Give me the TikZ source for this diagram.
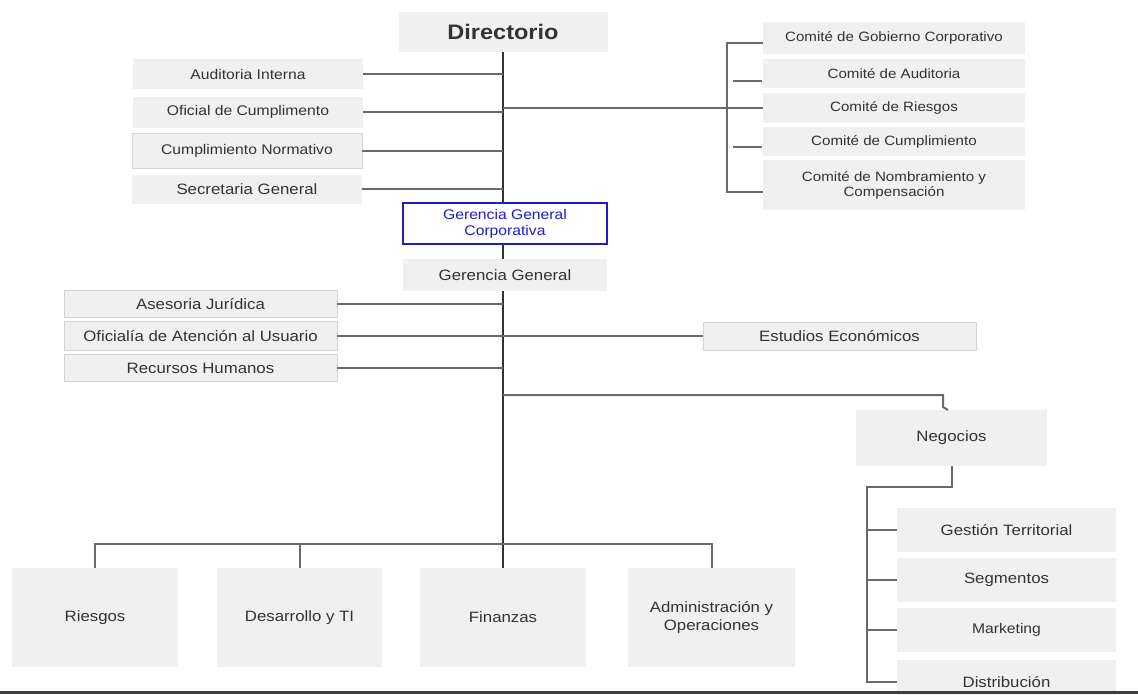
\documentclass[tikz,border=0pt]{standalone}
\usepackage{fontspec}
\setmainfont{Liberation Sans}[FakeStretch=1.12]
\definecolor{boxgray}{HTML}{F0F0F0}
\definecolor{edgegray}{HTML}{D4D4D4}
\definecolor{linegray}{HTML}{6A6A6A}
\definecolor{textgray}{HTML}{333333}
\definecolor{corpblue}{HTML}{1E1EC8}
\tikzset{
  unit/.style={fill=boxgray, text=textgray, inner sep=0pt, align=center,
    font=\fontsize{14}{16}\selectfont},
  unitb/.style={unit, draw=edgegray, line width=0.8pt},
  big/.style={font=\fontsize{15}{18}\selectfont},
  small/.style={font=\fontsize{13.5}{15}\selectfont},
  conn/.style={draw=linegray, line width=2pt},
  trunk/.style={draw=black!80, line width=2pt},
}
\begin{document}
\begin{tikzpicture}[x=1pt,y=-1pt]
	\useasboundingbox (0,0) rectangle (1138,694);
	\fill[white] (0,0) rectangle (1138,694);
	%board
	\node[unit, font=\bfseries\fontsize{21}{24}\selectfont, minimum width=209pt, minimum height=40pt] (dir) at (503,32) {Directorio};
	%staff of the board
	\node[unit, minimum width=230pt, minimum height=30pt] (audi) at (248,74) {Auditoria Interna};
	\node[unit, minimum width=230pt, minimum height=31pt] (ofic) at (248,112) {Oficial de Cumplimento};
	\node[unitb, minimum width=230pt, minimum height=35pt] (cnor) at (247,151) {Cumplimiento Normativo};
	\node[unit, big, minimum width=230pt, minimum height=29pt] (secr) at (247,189) {Secretaria General};
	%committees
	\node[unit, small, minimum width=262pt, minimum height=32pt] (cgob) at (894,38) {Comité de Gobierno Corporativo};
	\node[unit, small, minimum width=262pt, minimum height=29pt] (caud) at (894,73.5) {Comité de Auditoria};
	\node[unit, small, minimum width=262pt, minimum height=30pt] (crie) at (894,108) {Comité de Riesgos};
	\node[unit, small, minimum width=262pt, minimum height=29pt] (ccum) at (894,141.5) {Comité de Cumplimiento};
	\node[unit, small, minimum width=262pt, minimum height=50pt] (cnom) at (894,185) {Comité de Nombramiento y\\Compensación};
	%management
	\node[unit, fill=white, draw=corpblue, line width=2.6pt, text=corpblue, minimum width=204pt, minimum height=41pt] (ggc) at (505,223.5) {Gerencia General\\Corporativa};
	\node[unit, big, minimum width=204pt, minimum height=32pt] (gg) at (505,275) {Gerencia General};
	%staff of management
	\node[unitb, big, minimum width=273pt, minimum height=27pt] (ases) at (200.5,304) {Asesoria Jurídica};
	\node[unitb, big, minimum width=273pt, minimum height=29pt] (oate) at (200.5,336) {Oficialía de Atención al Usuario};
	\node[unitb, big, minimum width=273pt, minimum height=27pt] (rrhh) at (200.5,368) {Recursos Humanos};
	\node[unitb, big, minimum width=273pt, minimum height=28pt] (estu) at (839.5,336) {Estudios Económicos};
	%business
	\node[unit, big, minimum width=191pt, minimum height=56pt] (nego) at (951.5,438) {Negocios};
	\node[unit, big, minimum width=219pt, minimum height=44pt] (gest) at (1006.5,530) {Gestión Territorial};
	\node[unit, big, minimum width=219pt, minimum height=44pt] (segm) at (1006.5,580) {Segmentos};
	\node[unit, minimum width=219pt, minimum height=44pt] (mark) at (1006.5,630) {Marketing};
	\node[unit, big, minimum width=219pt, minimum height=44pt] (dist) at (1006.5,682) {Distribución};
	%divisions
	\node[unit, big, minimum width=166pt, minimum height=99pt] (ries) at (95,617.5) {Riesgos};
	\node[unit, big, minimum width=165pt, minimum height=99pt] (desa) at (299.5,617.5) {Desarrollo y TI};
	\node[unit, big, minimum width=166pt, minimum height=99pt] (fina) at (503,617.5) {Finanzas};
	\node[unit, big, minimum width=167pt, minimum height=99pt] (admi) at (711.5,617.5) {Administración y\\Operaciones};
	% trunk
	\draw[trunk] (dir.south) -- (dir.south |- ggc.north);
	\draw[trunk] (ggc.south -| dir.south) -- (gg.north -| dir.south);
	\draw[trunk] (gg.south -| dir.south) -- (fina.north);
	% branches
	\foreach \n in {audi,ofic,cnor,secr,ases,oate,rrhh}
		\draw[conn] (\n.east) -- (\n.east -| dir.south);
	\draw[conn] (estu.west -| dir.south) -- (estu.west);
	\draw[conn] (crie.west -| dir.south) -- (crie.west);
	\draw[conn] ([yshift=-5pt]cgob.west) -- ++(-36,0) |- ([yshift=-7pt]cnom.west);
	\draw[conn] ([xshift=-1pt,yshift=-7pt]caud.west) -- ++(-29,0);
	\draw[conn] ([xshift=-1pt,yshift=-5.5pt]ccum.west) -- ++(-29,0);
	% business line
	\coordinate (nj) at (943,395);
	\draw[conn] (nj -| dir.south) -- (nj) -- ++(0,12) -- ++(5,3);
	\coordinate (nbr) at (867,487);
	\draw[conn] (nego.south) |- (nbr) |- (dist.west);
	\foreach \n in {gest,segm,mark}
		\draw[conn] (\n.west) -- (\n.west -| nbr);
	% divisions bus
	\coordinate (bus) at (0,544);
	\draw[conn] (ries.north) -- (ries.north |- bus) -- (admi.north |- bus) -- (admi.north);
	\draw[conn] (desa.north) -- (desa.north |- bus);
	%bottom edge
	\fill[black!75] (0,691) rectangle (1138,694);
\end{tikzpicture}
\end{document}
